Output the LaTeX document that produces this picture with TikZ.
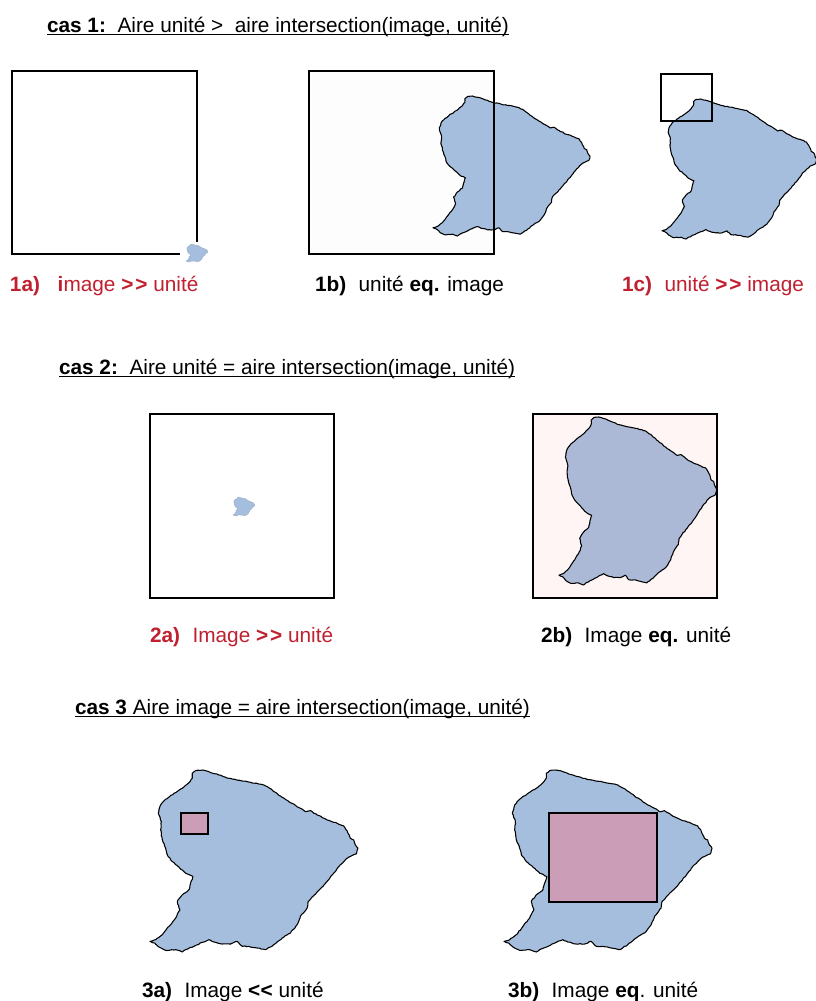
\documentclass[tikz,border=0pt]{standalone}
\usepackage{fontspec}
\usetikzlibrary{decorations.pathmorphing}
\setmainfont{Liberation Sans}
\definecolor{blu}{HTML}{A5BEDD}
\definecolor{blupink}{HTML}{ABB9D6}
\definecolor{pnk}{HTML}{CB9DB6}
\definecolor{pale}{HTML}{FFF5F5}
\definecolor{faint}{HTML}{FDFDFD}
\definecolor{redlab}{HTML}{C0202F}
\newcommand{\grgr}{\textbf{>\kern1.4pt>}}
\newcommand{\lsls}{\textbf{<\kern0.3pt<}}
\newsavebox{\ulbox}
\newcommand{\ulx}[1]{\sbox{\ulbox}{#1}\leavevmode\rlap{\rule[-2.3pt]{\wd\ulbox}{0.75pt}}\usebox{\ulbox}}
\newcommand{\guyanepath}{(155,40) -- (165,32) -- (185,30) -- (205,35) -- (235,45) -- (265,55) -- (300,62) -- (330,67) -- (370,75) -- (395,90) -- (420,108) -- (450,128) -- (480,145) -- (495,155) -- (510,152) -- (530,165) -- (560,180) -- (590,190) -- (610,198) -- (620,212) -- (630,235) -- (640,240) -- (645,255) -- (653,265) -- (648,282) -- (625,292) -- (600,315) -- (580,340) -- (560,365) -- (535,392) -- (515,412) -- (503,425) -- (500,445) -- (480,470) -- (470,495) -- (450,520) -- (425,535) -- (400,555) -- (375,570) -- (350,565) -- (325,560) -- (305,560) -- (290,545) -- (270,553) -- (245,553) -- (220,547) -- (205,540) -- (185,548) -- (160,560) -- (135,570) -- (125,577) -- (105,570) -- (75,572) -- (55,562) -- (42,550) -- (28,545) -- (45,540) -- (65,525) -- (85,500) -- (105,475) -- (118,450) -- (110,425) -- (125,405) -- (145,390) -- (150,370) -- (157,350) -- (135,340) -- (115,322) -- (95,305) -- (80,285) -- (75,265) -- (65,240) -- (60,210) -- (62,185) -- (53,160) -- (60,135) -- (75,118) -- (100,100) -- (125,85) -- (145,68) -- (155,55) -- cycle}
% #1 left, #2 top, #3 width, #4 height (pixels), #5 style
\newcommand{\guyane}[5]{\pgfmathsetmacro{\gsx}{#3/625}\pgfmathsetmacro{\gsy}{#4/547}
 \begin{scope}[shift={(#1,#2)},xscale=\gsx,yscale=\gsy,shift={(-28,-30)}]
 \path[#5] \guyanepath;
 \end{scope}}
\tikzset{
 x=0.75pt,y=-0.75pt,
 wiggle/.style={decorate,decoration={random steps,segment length=1.6pt,amplitude=0.3pt}},
 shapeline/.style={fill=blu,draw=black,line width=0.8pt,line join=round,wiggle},
 shapepink/.style={fill=blupink,draw=black,line width=0.8pt,line join=round,wiggle},
 shapetiny/.style={fill=blu,draw=blu!80!gray,line width=0.3pt},
 unitbox/.style={draw=black,line width=1.1pt},
 lab/.style={anchor=base west,inner sep=0pt,outer sep=0pt,font=\fontsize{15.6pt}{18pt}\selectfont},
 redl/.style={lab,text=redlab},
}
\begin{document}
\begin{tikzpicture}
\pgfmathsetseed{42}
\useasboundingbox[fill=white] (0,0) rectangle (816,1001);
% case 1
\node[lab] (t1) at (47,32) {\ulx{\textbf{cas 1:}\ \ Aire unité >\ \ aire intersection(image, unité)}};
\draw[unitbox] (180,254) -- (12,254) -- (12,71) -- (197,71) -- (197,242);
\guyane{186}{244}{22}{18}{shapetiny}
\node[redl] (l1a) at (10,291) {\textbf{1a)}\hspace{0.85em}\textbf{i}mage \grgr{} unité};
\path[fill=faint] (309,71) rectangle (494,254);
\guyane{433}{96}{157}{140}{shapeline}
\draw[unitbox] (309,71) rectangle (494,254);
\node[lab] (l1b) at (315,291) {\textbf{1b)}\hspace{0.6em}unité \textbf{eq.} image};
\guyane{662}{99}{155}{140}{shapeline}
\draw[unitbox] (661,74) rectangle (712,121);
\node[redl] (l1c) at (622,291) {\textbf{1c)}\hspace{0.6em}unité \grgr{} image};
% case 2
\node[lab] (t2) at (59,374) {\ulx{\textbf{cas 2:}\ \ Aire unité = aire intersection(image, unité)}};
\draw[unitbox] (149.8,414) rectangle (334,598);
\guyane{233}{497}{22}{19}{shapetiny}
\node[redl] (l2a) at (150,642) {\textbf{2a)}\hspace{0.6em}Image \grgr{} unité};
\path[fill=pale] (533,414) rectangle (717,598);
\guyane{559}{417}{158}{168}{shapepink}
\draw[unitbox] (533,414) rectangle (717,598);
\node[lab] (l2b) at (541,642) {\textbf{2b)}\hspace{0.6em}Image \textbf{eq.} unité};
% case 3
\node[lab] (t3) at (75,714) {\ulx{\textbf{cas 3} Aire image = aire intersection(image, unité)}};
\guyane{150}{770}{208}{182}{shapeline}
\draw[unitbox,fill=pnk] (181,813) rectangle (208,834);
\node[lab] (l3a) at (142,997) {\textbf{3a)}\hspace{0.6em}Image \lsls{} unité};
\guyane{504}{770}{208}{182}{shapeline}
\draw[unitbox,fill=pnk] (549,813) rectangle (657,902);
\node[lab] (l3b) at (508,997) {\textbf{3b)}\hspace{0.6em}Image \textbf{eq}. unité};
\end{tikzpicture}
\end{document}
